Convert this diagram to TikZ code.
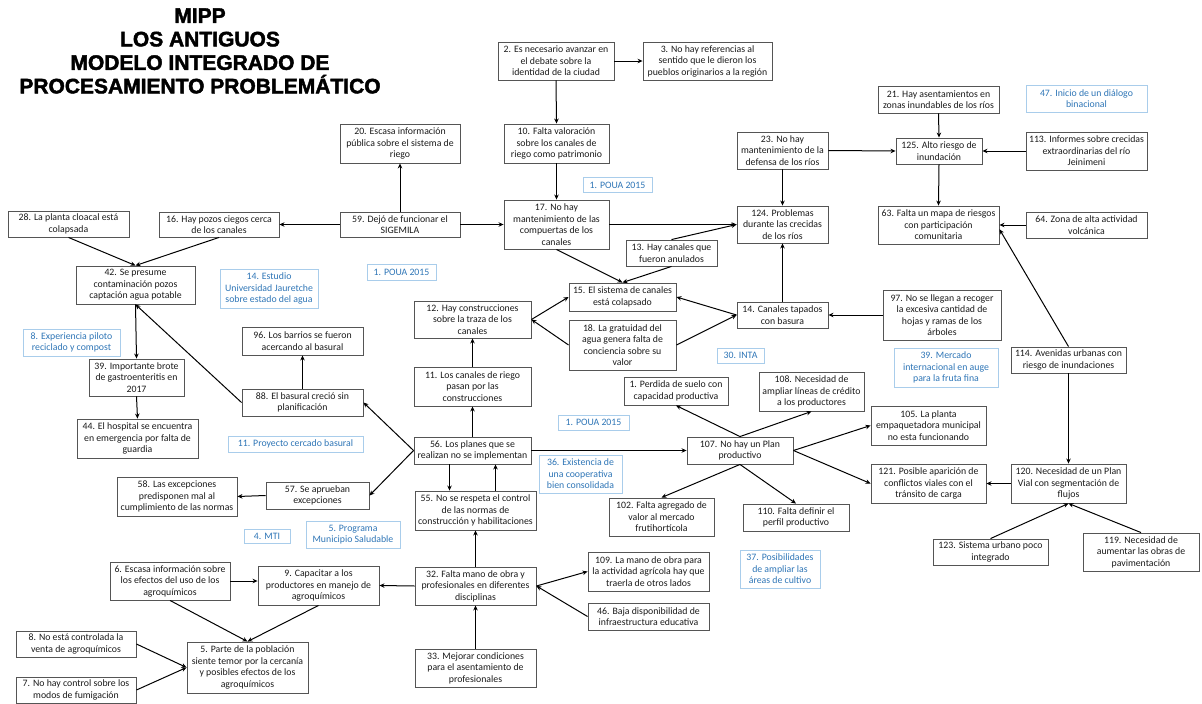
\documentclass[tikz,border=0pt]{standalone}
\usepackage{fontspec}
\setmainfont{Carlito}
\newfontfamily\headfont{Liberation Sans}[BoldFeatures={FakeBold=2}]
\usetikzlibrary{arrows.meta}
\definecolor{frame}{HTML}{555555}
\definecolor{ink}{HTML}{1A1A1A}
\definecolor{note}{HTML}{2E75B6}
\definecolor{noteline}{HTML}{A9CDEB}

\begin{document}
\begin{tikzpicture}[x=1pt, y=-1pt,
  box/.style={draw=frame, line width=0.9pt, text=ink, align=center, inner sep=0pt, font=\fontsize{9.8}{11.5}\selectfont},
  tag/.style={draw=noteline, line width=0.8pt, text=note, align=center, inner sep=0pt, font=\fontsize{9.8}{11.5}\selectfont},
  arr/.style={-{Stealth[length=5pt,width=4.5pt]}, line width=1pt, draw=black}]
  \useasboundingbox (0,0) rectangle (1202,704);
  \node[font={\headfont\bfseries\fontsize{21}{23.5}\selectfont}, align=center] (title) at (200,51)
    {MIPP\\LOS ANTIGUOS\\MODELO INTEGRADO DE\\PROCESAMIENTO PROBLEMÁTICO};
  \foreach \n/\x/\y/\w/\h/\t in {
    2/556/61/116/38/{2. Es necesario avanzar en\\el debate sobre la\\identidad de la ciudad},
    3/707.5/61/129/38/{3. No hay referencias al\\sentido que le dieron los\\pueblos originarios a la región},
    20/400/143.5/120/39/{20. Escasa información\\pública sobre el sistema de\\riego},
    10/556.5/143.5/105/39/{10. Falta valoración\\sobre los canales de\\riego como patrimonio},
    21/938.5/99.5/121/27/{21. Hay asentamientos en\\zonas inundables de los ríos},
    23/782.5/150.5/91/37/{23. No hay\\mantenimiento de la\\defensa de los ríos},
    125/939/151/86/26/{125. Alto riesgo de\\inundación},
    113/1086.5/151/121/38/{113. Informes sobre crecidas\\extraordinarias del río\\Jeinimeni},
    28/68.5/224/121/26/{28. La planta cloacal está\\colapsada},
    16/219/224.5/120/25/{16. Hay pozos ciegos cerca\\de los canales},
    59/400/224.5/120/25/{59. Dejó de funcionar el\\SIGEMILA},
    17/556.5/224.5/105/49/{17. No hay\\mantenimiento de las\\compuertas de los\\canales},
    124/782.5/224.5/91/37/{124. Problemas\\durante las crecidas\\de los ríos},
    63/938.5/225/121/38/{63. Falta un mapa de riesgos\\con participación\\comunitaria},
    64/1086.5/225/121/26/{64. Zona de alta actividad\\volcánica},
    42/135.5/285/119/38/{42. Se presume\\contaminación pozos\\captación agua potable},
    13/671.5/253/91/26/{13. Hay canales que\\fueron anulados},
    15/622.5/297/107/28/{15. El sistema de canales\\está colapsado},
    12/472.5/319.5/117/37/{12. Hay construcciones\\sobre la traza de los\\canales},
    18/622.5/345/107/50/{18. La gratuidad del\\agua genera falta de\\conciencia sobre su\\valor},
    14/782.5/315/91/26/{14. Canales tapados\\con basura},
    97/942/315/118/50/{97. No se llegan a recoger\\la excesiva cantidad de\\hojas y ramas de los\\árboles},
    96/302.5/341/121/28/{96. Los barrios se fueron\\acercando al basural},
    39/136.5/377.5/95/37/{39. Importante brote\\de gastroenteritis en\\2017},
    114/1068.5/360/115/26/{114. Avenidas urbanas con\\riesgo de inundaciones},
    11/472.5/386.5/117/39/{11. Los canales de riego\\pasan por las\\construcciones},
    1/676/391/104/28/{1. Perdida de suelo con\\capacidad productiva},
    108/811.5/391.5/105/39/{108. Necesidad de\\ampliar líneas de crédito\\a los productores},
    88/302.5/402.5/121/27/{88. El basural creció sin\\planificación},
    105/928.5/425.5/115/39/{105. La planta\\empaquetadora municipal\\no esta funcionando},
    44/137.5/438.5/121/39/{44. El hospital se encuentra\\en emergencia por falta de\\guardia},
    56/472.5/450.5/117/27/{56. Los planes que se\\realizan no se implementan},
    107/740/450.5/106/27/{107. No hay un Plan\\productivo},
    121/928.5/483.5/115/39/{121. Posible aparición de\\conflictos viales con el\\tránsito de carga},
    120/1068.5/483.5/115/39/{120. Necesidad de un Plan\\Vial con segmentación de\\flujos},
    58/177/496.5/120/39/{58. Las excepciones\\predisponen mal al\\cumplimiento de las normas},
    57/317.5/495.5/103/27/{57. Se aprueban\\excepciones},
    55/475.5/510.5/121/39/{55. No se respeta el control\\de las normas de\\construcción y habilitaciones},
    102/661.5/517/105/38/{102. Falta agregado de\\valor al mercado\\frutihortícola},
    110/796/517.5/106/27/{110. Falta definir el\\perfil productivo},
    123/990.5/552/115/26/{123. Sistema urbano poco\\integrado},
    119/1141/552/116/38/{119. Necesidad de\\aumentar las obras de\\pavimentación},
    109/648.5/571.5/121/39/{109. La mano de obra para\\la actividad agrícola hay que\\traerla de otros lados},
    6/170/581/120/38/{6. Escasa información sobre\\los efectos del uso de los\\agroquímicos},
    9/318.5/585.5/121/39/{9. Capacitar a los\\productores en manejo de\\agroquímicos},
    32/475.5/586/121/38/{32. Falta mano de obra y\\profesionales en diferentes\\disciplinas},
    46/648.5/616.5/121/27/{46. Baja disponibilidad de\\infraestructura educativa},
    8/76/644/120/26/{8. No está controlada la\\venta de agroquímicos},
    5/247.5/667.5/121/51/{5. Parte de la población\\siente temor por la cercanía\\y posibles efectos de los\\agroquímicos},
    33/475.5/668/121/38/{33. Mejorar condiciones\\para el asentamiento de\\profesionales},
    7/76/690/120/26/{7. No hay control sobre los\\modos de fumigación}}
    \node[box, minimum width=\w, minimum height=\h] (r\n) at (\x,\y) {\t};
  \foreach \n/\x/\y/\w/\h/\t in {
    47/1086.5/98.5/121/27/{47. Inicio de un diálogo\\binacional},
    poa/617.5/185/69/15/{1. POUA 2015},
    pob/401.5/272/69/16/{1. POUA 2015},
    14/269/288.5/98/39/{14. Estudio\\Universidad Jauretche\\sobre estado del agua},
    8/71.5/342.5/97/27/{8. Experiencia piloto\\reciclado y compost},
    30/740.5/355.5/47/15/{30. INTA},
    39/946/367.5/104/39/{39. Mercado\\internacional en auge\\para la fruta fina},
    poc/593.5/422.5/71/15/{1. POUA 2015},
    11/295.5/444/135/16/{11. Proyecto cercado basural},
    36/580.5/474/83/38/{36. Existencia de\\una cooperativa\\bien consolidada},
    4/267/536.5/46/14/{4. MTI},
    5/353/534.5/94/27/{5. Programa\\Municipio Saludable},
    37/780/569/80/38/{37. Posibilidades\\de ampliar las\\áreas de cultivo}}
    \node[tag, minimum width=\w, minimum height=\h] (t\n) at (\x,\y) {\t};
  \foreach \a/\b in {r2.east/r3.west, r2.south/r10.north, r10.south/r17.north,
    r59.north/r20.south, r59.west/r16.east, r59.east/r17.west,
    r28.south/r42.north, r16.south/r42.north, r88.west/r42.south,
    r42.south/r39.north, r39.south/r44.north, r88.north/r96.south,
    r56.west/r88.east, r56.west/r57.east, r57.west/r58.east,
    r56.north/r11.south, r11.north/r12.south, r12.east/r15.west, r18.west/r12.east,
    r17.south/r15.north, r13.south/r15.north, r13.north/r124.west, r17.east/r124.west,
    r14.north/r124.south, r14.west/r15.east, r18.east/r14.west, r97.west/r14.east,
    r23.south/r124.north, r23.east/r125.west, r21.south/r125.north, r113.west/r125.east,
    r125.south/r63.north, r64.west/r63.east, r114.north/r63.-4, r114.south/r120.north,
    r120.west/r121.east, r123.north/r120.south, r119.north/r120.south,
    r56.east/r107.west, r107.north/r1.south, r107.north/r108.south,
    r107.east/r105.west, r107.east/r121.west, r107.south/r102.north, r107.south/r110.north,
    r32.north/r55.south, r33.north/r32.south, r32.west/r9.east,
    r6.south/r5.north, r9.south/r5.north, r8.east/r5.west, r7.east/r5.west,
    r32.east/r109.west, r46.west/r32.east}
    \draw[arr] (\a) -- (\b);
  \draw[arr] (r6.east) -- (r6.east -| r9.west);
  \draw[arr] ([xshift=-23pt]r56.south) -- ([xshift=-23pt]r56.south |- r55.north);
  \draw[arr] ([xshift=20pt]r55.north) -- ([xshift=20pt]r55.north |- r56.south);
\end{tikzpicture}
\end{document}
